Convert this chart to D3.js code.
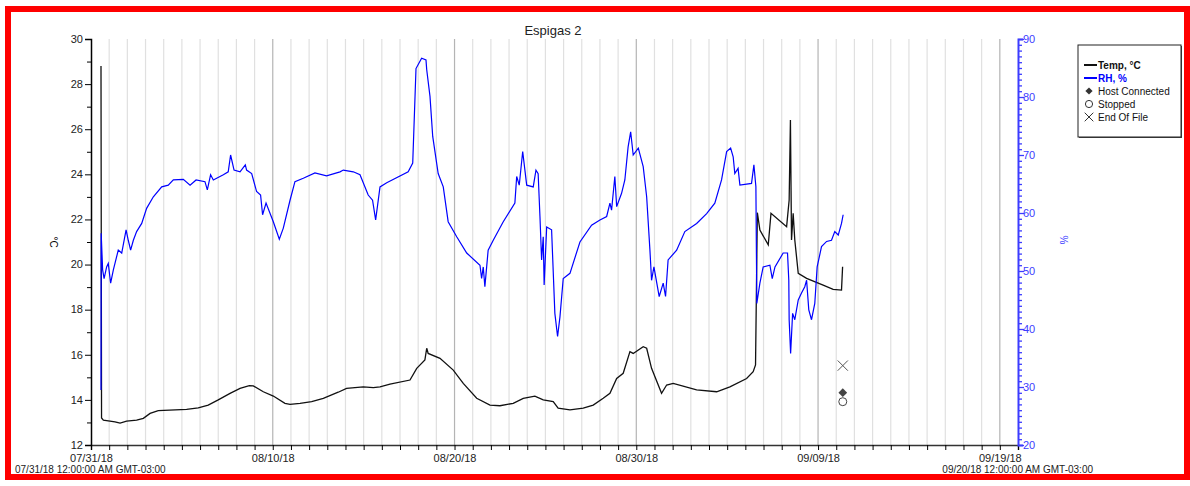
<!DOCTYPE html>
<html>
	<head>
		<title>Espigas 2</title>
		<meta charset="UTF-8">
		<style type="text/css">
			body { margin: 0; background: #fff; }
			text { font-family: "Liberation Sans", Arial, sans-serif; }
		</style>
		<script src="https://d3js.org/d3.v7.min.js"></script>
	</head>

	<body>
		<script type="text/javascript">

			// days since 07/31/18 00:00, value
			var tempData = [
				[0.55, 28.8], [0.58, 13.2], [0.68, 13.1], [1.32, 13.03], [1.6, 12.97], [1.96, 13.06], [2.51, 13.1],
				[2.88, 13.18], [3.25, 13.4], [3.7, 13.52], [5.26, 13.58], [5.9, 13.65], [6.45, 13.77], [7.0, 14.0],
				[7.65, 14.29], [8.2, 14.51], [8.71, 14.63], [8.93, 14.62], [9.48, 14.36], [10.03, 14.17], [10.67, 13.85],
				[10.95, 13.8], [11.5, 13.85], [12.14, 13.92], [12.78, 14.07], [13.6, 14.34], [14.06, 14.51], [14.98, 14.58],
				[15.53, 14.54], [15.9, 14.58], [16.45, 14.7], [17.55, 14.88], [17.92, 15.4], [18.37, 15.77], [18.47, 16.29],
				[18.55, 16.06], [19.2, 15.84], [19.93, 15.32], [20.48, 14.73], [21.22, 14.07], [21.95, 13.77], [22.5, 13.74],
				[23.23, 13.85], [23.78, 14.07], [24.42, 14.17], [24.88, 14.0], [25.43, 13.92], [25.7, 13.63], [26.35, 13.56],
				[27.08, 13.63], [27.63, 13.77], [28.18, 14.07], [28.55, 14.29], [28.92, 14.95], [29.28, 15.18], [29.65, 16.14],
				[29.83, 16.06], [30.38, 16.36], [30.57, 16.29], [30.84, 15.4], [31.39, 14.29], [31.67, 14.66], [32.03, 14.73],
				[33.32, 14.44], [34.42, 14.36], [35.15, 14.58], [36.07, 14.95], [36.43, 15.25], [36.56, 15.55], [36.62, 19.61],
				[36.66, 22.3], [36.8, 21.53], [37.26, 20.87], [37.41, 22.27], [38.27, 21.68], [38.41, 22.86], [38.48, 26.41],
				[38.54, 21.09], [38.63, 22.27], [38.72, 21.09], [38.91, 19.61], [39.37, 19.39], [40.28, 19.09], [40.83, 18.9],
				[41.29, 18.87], [41.35, 19.9]
			];

			var rhData = [
				[0.55, 29.5], [0.56, 56.5], [0.64, 50.2], [0.72, 48.7], [0.86, 50.7], [0.95, 51.3], [1.08, 47.9], [1.23, 50.2],
				[1.5, 53.6], [1.69, 53.1], [1.93, 57.1], [2.05, 55.3], [2.18, 53.6], [2.33, 55.3], [2.51, 56.8], [2.79, 58.2],
				[3.06, 60.8], [3.43, 62.8], [3.89, 64.5], [4.25, 64.8], [4.53, 65.7], [5.08, 65.8], [5.45, 64.8], [5.78, 65.7],
				[6.27, 65.4], [6.4, 64.0], [6.58, 66.6], [6.73, 65.7], [7.28, 66.6], [7.55, 67.1], [7.68, 70.0], [7.87, 67.4],
				[8.2, 67.1], [8.49, 68.3], [8.56, 67.4], [8.84, 66.8], [9.11, 63.7], [9.33, 63.1], [9.44, 59.7], [9.63, 61.7],
				[10.03, 58.5], [10.36, 55.5], [10.58, 57.4], [10.95, 62.2], [11.22, 65.4], [11.68, 66.0], [12.32, 66.9],
				[12.96, 66.4], [13.7, 67.1], [13.88, 67.4], [14.43, 67.1], [14.8, 66.6], [15.25, 63.1], [15.49, 62.2],
				[15.66, 58.8], [15.9, 64.5], [16.27, 65.2], [17.45, 67.1], [17.7, 68.6], [17.88, 84.9], [18.19, 86.7],
				[18.43, 86.4], [18.47, 84.7], [18.65, 80.1], [18.8, 73.2], [19.1, 66.8], [19.38, 64.5], [19.65, 58.5],
				[20.12, 55.9], [20.67, 53.1], [21.4, 51.0], [21.49, 48.7], [21.58, 50.7], [21.67, 47.3], [21.85, 53.6],
				[22.13, 55.3], [22.68, 58.5], [23.32, 61.7], [23.42, 66.3], [23.56, 64.8], [23.75, 70.6], [23.97, 64.8],
				[24.33, 64.5], [24.48, 67.4], [24.6, 66.8], [24.7, 59.4], [24.79, 51.9], [24.88, 55.9], [24.93, 47.6],
				[25.07, 57.6], [25.34, 57.1], [25.52, 42.7], [25.67, 38.7], [25.8, 42.1], [25.98, 48.7], [26.35, 49.6],
				[26.9, 55.0], [27.54, 57.9], [28.0, 58.8], [28.37, 59.4], [28.55, 61.7], [28.64, 60.5], [28.82, 66.3],
				[28.92, 61.1], [29.19, 63.4], [29.37, 65.7], [29.55, 71.4], [29.69, 74.0], [29.83, 70.0], [30.11, 71.2],
				[30.38, 68.0], [30.57, 62.8], [30.75, 53.6], [30.84, 48.4], [30.97, 50.7], [31.26, 45.6], [31.48, 47.9],
				[31.61, 45.6], [31.75, 51.9], [32.22, 53.6], [32.67, 56.8], [33.32, 58.2], [33.87, 59.9], [34.32, 61.7],
				[34.69, 65.7], [34.97, 70.6], [35.19, 71.2], [35.33, 69.7], [35.42, 66.8], [35.6, 67.7], [35.7, 64.8],
				[36.34, 65.1], [36.47, 68.3], [36.58, 64.5], [36.63, 44.4], [36.8, 47.9], [36.98, 50.7], [37.35, 51.0],
				[37.48, 48.7], [37.63, 50.7], [38.08, 53.1], [38.32, 53.1], [38.39, 48.4], [38.41, 41.6], [38.49, 35.8],
				[38.6, 42.7], [38.72, 41.6], [38.91, 45.0], [39.09, 46.2], [39.27, 47.3], [39.37, 48.4], [39.49, 43.3],
				[39.64, 41.6], [39.82, 44.4], [39.95, 50.7], [40.19, 54.2], [40.47, 55.1], [40.74, 55.3], [40.92, 56.8],
				[41.11, 56.2], [41.29, 58.2], [41.38, 59.7]
			];

			// event markers (day, °C)
			var hostConnected = [[41.36, 14.32]];
			var stopped = [[41.36, 13.92]];
			var endOfFile = [[41.36, 15.52]];

			var tempTicks = [12, 14, 16, 18, 20, 22, 24, 26, 28, 30];
			var rhTicks = [20, 30, 40, 50, 60, 70, 80, 90];
			var dateLabels = ["07/31/18", "08/10/18", "08/20/18", "08/30/18", "09/09/18", "09/19/18"];
			var legendItems = ["Temp, °C", "RH, %", "Host Connected", "Stopped", "End Of File"];

			var blue = "#0000ff", axisBlue = "#3c3cff";

			var width = 1190, height = 486;
			var margin = {top: 39, right: 172, bottom: 41, left: 91};

			var start = new Date(2018, 6, 31), end = new Date(2018, 8, 20);
			var parseLabel = d3.timeParse("%m/%d/%y");
			function toDate(day) { return new Date(start.getTime() + day * 864e5); }

			var x = d3.scaleTime().domain([start, end]).range([margin.left, width - margin.right]);
			var yT = d3.scaleLinear().domain([12, 30]).range([height - margin.bottom, margin.top]);
			var yH = d3.scaleLinear().domain([20, 90]).range([height - margin.bottom, margin.top]);

			var svg = d3.select("body").append("svg")
				.attr("width", width)
				.attr("height", height);

			// red frame
			svg.append("rect")
				.attr("x", 8).attr("y", 9).attr("width", 1179).attr("height", 468)
				.attr("fill", "none").attr("stroke", "#ff0000").attr("stroke-width", 6);

			// day grid
			var days = d3.timeDay.range(d3.timeDay.offset(start, 1), end);
			var majors = dateLabels.map(function(s) { return +parseLabel(s); });
			svg.append("g").selectAll("line").data(days).enter().append("line")
				.attr("x1", function(d) { return x(d); }).attr("x2", function(d) { return x(d); })
				.attr("y1", margin.top).attr("y2", height - margin.bottom)
				.attr("stroke", function(d) { return majors.indexOf(+d) >= 0 ? "#b4b4b4" : "#e0e0e0"; })
				.attr("stroke-width", 1.2);

			// x axis
			var xAxis = d3.axisBottom(x)
				.tickValues(d3.timeDay.range(start, d3.timeDay.offset(end, 1)))
				.tickSize(5)
				.tickFormat(function(d) { return majors.indexOf(+d) >= 0 ? d3.timeFormat("%m/%d/%y")(d) : ""; });
			var gx = svg.append("g")
				.attr("transform", "translate(0," + (height - margin.bottom) + ")")
				.call(xAxis);
			gx.select(".domain").attr("stroke", "#333").attr("stroke-width", 1.5);
			gx.selectAll("text").attr("font-size", 11).attr("fill", "#222").attr("y", 9).attr("dy", "0.71em");

			svg.append("text").attr("x", 15).attr("y", 473).attr("font-size", 10).attr("fill", "#222")
				.text("07/31/18 12:00:00 AM GMT-03:00");
			svg.append("text").attr("x", 1093).attr("y", 473).attr("font-size", 10).attr("fill", "#222")
				.attr("text-anchor", "end").text("09/20/18 12:00:00 AM GMT-03:00");

			// left axis, °C
			var gl = svg.append("g")
				.attr("transform", "translate(" + margin.left + ",0)")
				.call(d3.axisLeft(yT).tickValues(d3.range(12, 31, 1)).tickSize(6)
					.tickFormat(function(d) { return tempTicks.indexOf(d) >= 0 ? d : ""; }));
			gl.selectAll(".tick line").attr("x2", function(d) { return tempTicks.indexOf(d) >= 0 ? -6 : -4; });
			gl.select(".domain").attr("stroke-width", 1.5);
			gl.selectAll("text").attr("font-size", 11).attr("fill", "#222").attr("x", -8).attr("dy", "0.3em");

			svg.append("text")
				.attr("transform", "translate(50,242) rotate(90)")
				.attr("text-anchor", "middle").attr("font-size", 10).text("°C");

			// right axis, RH
			var gr = svg.append("g")
				.attr("transform", "translate(" + (width - margin.right) + ",0)")
				.call(d3.axisRight(yH).tickValues(d3.range(20, 91, 1)).tickSize(5)
					.tickFormat(function(d) { return rhTicks.indexOf(d) >= 0 ? d : ""; }));
			gr.selectAll(".tick line").attr("stroke", axisBlue).attr("stroke-width", 1.3)
				.attr("x2", function(d) { return rhTicks.indexOf(d) >= 0 ? 6 : 4; });
			gr.select(".domain").attr("stroke", axisBlue).attr("stroke-width", 2);
			gr.selectAll("text").attr("font-size", 11).attr("fill", axisBlue).attr("x", 5);

			svg.append("text")
				.attr("transform", "translate(1060,240) rotate(90)")
				.attr("text-anchor", "middle").attr("font-size", 10).attr("fill", axisBlue).text("%");

			// title
			svg.append("text").attr("x", 553).attr("y", 35).attr("text-anchor", "middle")
				.attr("font-size", 13).attr("fill", "#222").text("Espigas 2");

			// lines
			var tempLine = d3.line()
				.x(function(d) { return x(toDate(d[0])); })
				.y(function(d) { return yT(d[1]); });
			var rhLine = d3.line()
				.x(function(d) { return x(toDate(d[0])); })
				.y(function(d) { return yH(d[1]); });

			svg.append("path").attr("d", tempLine(tempData))
				.attr("fill", "none").attr("stroke", "#111").attr("stroke-width", 1.3);
			svg.append("path").attr("d", rhLine(rhData))
				.attr("fill", "none").attr("stroke", blue).attr("stroke-width", 1.2);

			// markers
			var diamond = d3.symbol().type(d3.symbolSquare).size(38);
			svg.selectAll(".host").data(hostConnected).enter().append("path")
				.attr("d", diamond)
				.attr("transform", function(d) { return "translate(" + x(toDate(d[0])) + "," + yT(d[1]) + ") rotate(45)"; })
				.attr("fill", "#444");
			svg.selectAll(".stop").data(stopped).enter().append("circle")
				.attr("cx", function(d) { return x(toDate(d[0])); })
				.attr("cy", function(d) { return yT(d[1]); })
				.attr("r", 4).attr("fill", "none").attr("stroke", "#444");
			var cross = d3.symbol().type(d3.symbolX).size(70);
			svg.selectAll(".eof").data(endOfFile).enter().append("path")
				.attr("d", cross)
				.attr("transform", function(d) { return "translate(" + x(toDate(d[0])) + "," + yT(d[1]) + ")"; })
				.attr("fill", "none").attr("stroke", "#555");

			// legend
			var lg = svg.append("g").attr("transform", "translate(1078,45)");
			lg.append("rect").attr("x", 1).attr("y", 1).attr("width", 103).attr("height", 92).attr("fill", "#444");
			lg.append("rect").attr("width", 103).attr("height", 92)
				.attr("fill", "#fff").attr("stroke", "#222").attr("stroke-width", 1);

			lg.selectAll(".item").data(legendItems).enter().append("text")
				.attr("x", 20).attr("y", function(d, i) { return 24 + i * 13; })
				.attr("font-size", 10)
				.attr("font-weight", function(d, i) { return i < 2 ? "bold" : "normal"; })
				.attr("fill", function(d, i) { return i == 1 ? blue : "#111"; })
				.text(function(d) { return d; });

			lg.append("line").attr("x1", 6).attr("x2", 19).attr("y1", 20).attr("y2", 20)
				.attr("stroke", "#111").attr("stroke-width", 2);
			lg.append("line").attr("x1", 6).attr("x2", 19).attr("y1", 33).attr("y2", 33)
				.attr("stroke", blue).attr("stroke-width", 2);
			lg.append("path").attr("d", d3.symbol().type(d3.symbolSquare).size(26))
				.attr("transform", "translate(11,46) rotate(45)").attr("fill", "#333");
			lg.append("circle").attr("cx", 11).attr("cy", 59).attr("r", 3.6)
				.attr("fill", "none").attr("stroke", "#333");
			lg.append("path").attr("d", d3.symbol().type(d3.symbolX).size(50))
				.attr("transform", "translate(11,72)").attr("fill", "none").attr("stroke", "#333");

		</script>
	</body>
</html>
